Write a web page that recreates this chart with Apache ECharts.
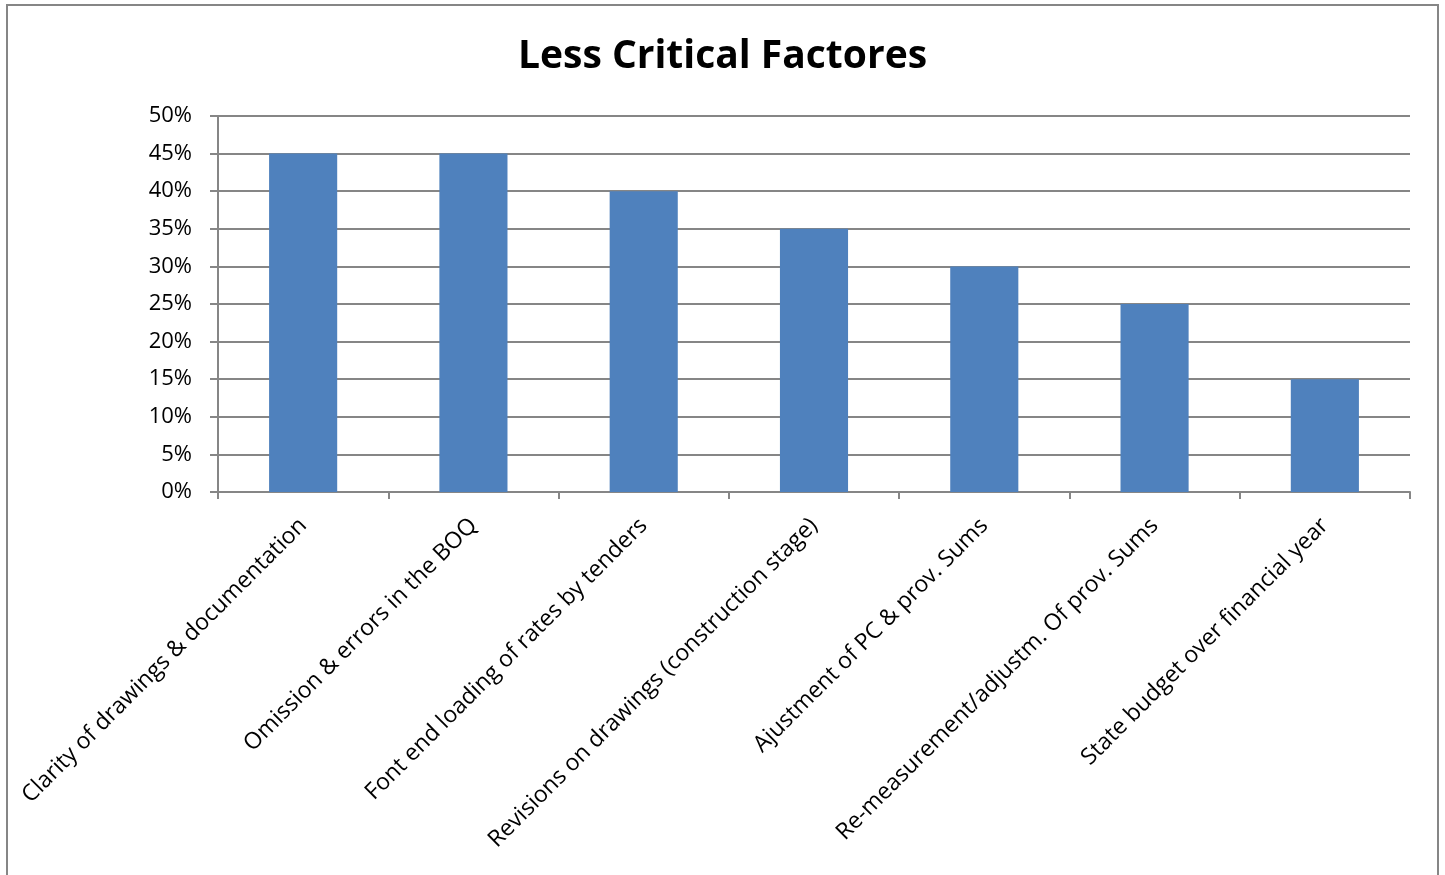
<!DOCTYPE html>
<html><head><meta charset="utf-8">
<script src="https://cdn.jsdelivr.net/npm/echarts@6/dist/echarts.min.js"></script>
<style>html,body{margin:0;padding:0;background:#fff}#c{width:1445px;height:875px}</style>
</head><body><div id="c"></div>
<script>
const titleText = "Less Critical Factores";
const categories = [
  "Clarity of drawings & documentation",
  "Omission & errors in the BOQ",
  "Font end loading of rates by tenders",
  "Revisions on drawings (construction stage)",
  "Ajustment of PC & prov. Sums",
  "Re-measurement/adjustm. Of prov. Sums",
  "State budget over financial year"
];
const values = [45, 45, 40, 35, 30, 25, 15];
const yTicks = [0, 5, 10, 15, 20, 25, 30, 35, 40, 45, 50];

const chart = echarts.init(document.getElementById('c'), null, {renderer:'canvas'});
const font = '"Open Sans", Lato, sans-serif';
chart.setOption({
  animation:false,
  backgroundColor:'#fff',
  title:{text:titleText,left:'center',top:32,textStyle:{fontFamily:font,fontWeight:'bold',fontSize:39,color:'#000'}},
  graphic:[{type:'rect',shape:{x:7,y:5,width:1431,height:900},style:{fill:'none',stroke:'#868686',lineWidth:2},silent:true}],
  grid:{left:218,right:35,top:116,bottom:383,containLabel:false},
  xAxis:{type:'category',data:categories,
    axisLine:{lineStyle:{color:'#868686',width:2}},
    axisTick:{show:true,length:7,lineStyle:{color:'#868686',width:2}},
    axisLabel:{rotate:45,interval:0,fontFamily:font,fontSize:23,color:'#000',margin:30}},
  yAxis:{type:'value',min:0,max:50,interval:5,
    axisLine:{show:true,lineStyle:{color:'#868686',width:2}},
    axisTick:{show:true,length:8,inside:false,lineStyle:{color:'#868686',width:2}},
    splitLine:{show:true,lineStyle:{color:'#868686',width:2}},
    axisLabel:{fontFamily:font,fontSize:22,color:'#000',margin:26,formatter:function(v){return yTicks.indexOf(v)>=0? v+'%':'';}}},
  series:[{type:'bar',data:values,barWidth:'40%',itemStyle:{color:'#4F81BD'}}]
});
</script></body></html>
